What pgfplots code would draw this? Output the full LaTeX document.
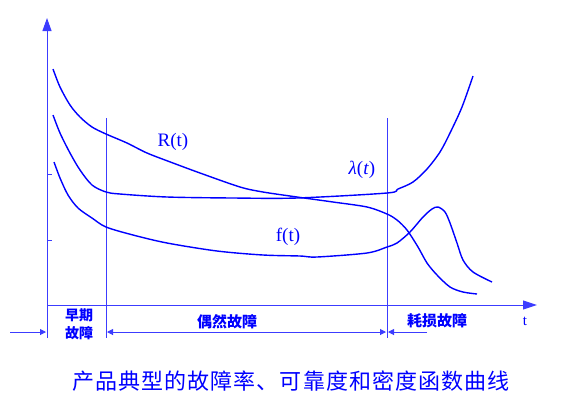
\documentclass[border=0pt]{standalone}
\usepackage{fontspec}
\setmainfont{Liberation Serif}
\newfontfamily\cjk{Noto Sans CJK SC}
\usepackage{pgfplots}
\pgfplotsset{compat=1.18}
\usetikzlibrary{arrows.meta}
\definecolor{cb}{RGB}{0,0,255}
\definecolor{lb}{RGB}{60,60,255}
\begin{document}
\begin{tikzpicture}
\begin{axis}[
  x=1bp, y=1bp, y dir=reverse,
  xmin=0, xmax=568, ymin=0, ymax=419,
  hide axis, clip=false, scale only axis,
]
\path (axis cs:0,0) rectangle (axis cs:568,419);
% axes
\draw[lb, line width=1bp, -{Triangle[length=13bp,width=9bp]}] (axis cs:47,338) -- (axis cs:47,18);
\draw[lb, line width=1bp, -{Triangle[length=14bp,width=9bp]}] (axis cs:47,305) -- (axis cs:537,305);
\draw[lb, line width=1bp] (axis cs:47,174) -- (axis cs:52,174);
\draw[lb, line width=1bp] (axis cs:47,240) -- (axis cs:52,240);
% phase lines
\draw[lb, line width=1bp] (axis cs:106,118) -- (axis cs:106,338);
\draw[lb, line width=1bp] (axis cs:387,118) -- (axis cs:387,338);
% phase arrows
\draw[lb, line width=1bp, -{Triangle[length=6bp,width=6bp]}] (axis cs:10,332) -- (axis cs:46,332);
\draw[lb, line width=1bp, {Triangle[length=6bp,width=6bp]}-{Triangle[length=6bp,width=6bp]}] (axis cs:107,332) -- (axis cs:386,332);
\draw[lb, line width=1bp, -{Triangle[length=6bp,width=6bp]}] (axis cs:427,332) -- (axis cs:388,332);
% curves
\addplot[cb, line width=1.4bp, smooth, tension=0.5] coordinates {
(53,69) (60,87) (70,105) (80,117) (92,127) (106,134) (127,143) (147,153) (173,163) (200,173) (240,187) (263,192) (297,197) (333,202) (367,207) (387,214) (397,220) (407,230) (418,247) (427,263) (437,275) (450,287) (463,292) (477,294)};
\addplot[cb, line width=1.4bp, smooth, tension=0.5] coordinates {
(53,115) (60,133) (70,153) (80,170) (92,185) (106,192) (120,194) (167,197) (233,198) (297,198) (387,193) (398,189) (413,182) (427,169) (440,152) (450,133) (462,107) (473,76)};
\addplot[cb, line width=1.4bp, smooth, tension=0.5] coordinates {
(54,162) (60,178) (68,195) (78,208) (92,218) (106,227) (133,235) (167,243) (217,251) (263,255) (300,256) (317,257) (367,253) (387,247) (397,243) (410,232) (423,217) (432,209) (438,207) (445,212) (450,223) (457,243) (463,260) (473,272) (492,282)};
% curve labels
\node[cb, font=\fontsize{19bp}{19bp}\selectfont] at (axis cs:173,142) {R(t)};
\node[cb, font=\fontsize{19bp}{19bp}\selectfont] at (axis cs:362,170) {\textit{λ}(\textit{t})};
\node[cb, font=\fontsize{19bp}{19bp}\selectfont] at (axis cs:288,237) {f(t)};
% phase labels
\node[cb, font=\cjk\bfseries\fontsize{14bp}{14bp}\selectfont] at (axis cs:79,315) {早期};
\node[cb, font=\cjk\bfseries\fontsize{14bp}{14bp}\selectfont] at (axis cs:79,333) {故障};
\node[cb, font=\cjk\bfseries\fontsize{15bp}{15bp}\selectfont] at (axis cs:227,322) {偶然故障};
\node[cb, font=\cjk\bfseries\fontsize{15bp}{15bp}\selectfont] at (axis cs:437,321) {耗损故障};
\node[cb, font=\fontsize{15bp}{15bp}\selectfont] at (axis cs:525,321) {t};
% caption
\node[cb, font=\cjk\fontsize{22bp}{22bp}\selectfont\addfontfeature{LetterSpace=5}] at (axis cs:291,381) {产品典型的故障率、可靠度和密度函数曲线};
\end{axis}
\end{tikzpicture}
\end{document}
